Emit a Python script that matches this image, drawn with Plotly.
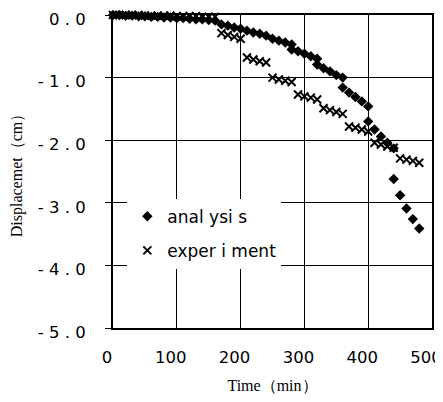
import plotly.graph_objects as go

# Analysis (diamonds)
ana_t = [0, 10, 20, 30, 40, 50, 60, 70, 80, 90, 100, 110, 120, 130, 140, 150, 160,
         170, 180, 190, 200, 210, 220, 230, 240, 250, 260, 270, 280,
         280, 290, 300, 310, 320,
         320, 330, 340, 350, 360,
         360, 370, 380, 390, 400,
         400, 410, 420, 430, 440,
         440, 450, 460, 470, 480]
ana_d = [0.00, 0.00, -0.01, -0.01, -0.02, -0.02, -0.03, -0.03, -0.04, -0.04, -0.05, -0.05, -0.06, -0.07, -0.07, -0.08, -0.09,
         -0.15, -0.17, -0.20, -0.22, -0.25, -0.28, -0.30, -0.33, -0.38, -0.41, -0.44, -0.47,
         -0.55, -0.58, -0.62, -0.66, -0.70,
         -0.79, -0.85, -0.90, -0.96, -1.00,
         -1.16, -1.24, -1.31, -1.38, -1.46,
         -1.70, -1.83, -1.94, -2.04, -2.13,
         -2.62, -2.88, -3.09, -3.26, -3.41]

# Experiment (crosses)
exp_t = [0, 10, 20, 30, 40, 50, 60, 70, 80, 90, 100, 110, 120, 130, 140, 150, 160,
         170, 180, 190, 200,
         210, 220, 230, 240,
         250, 260, 270, 280,
         290, 300, 310, 320,
         330, 340, 350, 360,
         370, 380, 390, 400,
         410, 420, 430, 440,
         450, 460, 470, 480]
exp_d = [0.00, 0.00, 0.00, 0.00, 0.00, -0.01, -0.01, -0.01, -0.01, -0.01, -0.02, -0.02, -0.02, -0.02, -0.03, -0.03, -0.03,
         -0.29, -0.32, -0.35, -0.38,
         -0.68, -0.71, -0.74, -0.76,
         -1.00, -1.03, -1.05, -1.07,
         -1.27, -1.30, -1.32, -1.35,
         -1.49, -1.52, -1.55, -1.58,
         -1.78, -1.80, -1.83, -1.86,
         -2.04, -2.07, -2.10, -2.12,
         -2.29, -2.31, -2.33, -2.36]

NB = "\u00a0"
y_ticks = [0, -1, -2, -3, -4, -5]
y_tick_text = ["0" + NB + "." + NB + "0",
               "-" + NB + "1" + NB + "." + NB + "0",
               "-" + NB + "2" + NB + "." + NB + "0",
               "-" + NB + "3" + NB + "." + NB + "0",
               "-" + NB + "4" + NB + "." + NB + "0",
               "-" + NB + "5" + NB + "." + NB + "0"]
x_ticks = [0, 100, 200, 300, 400, 500]
x_tick_text = ["0", "100", "200", "300", "400", "500"]

names = ["anal" + NB + "ysi" + NB + "s", "exper" + NB + "i" + NB + "ment"]

fig = go.Figure()
fig.add_trace(go.Scatter(
    x=ana_t, y=ana_d, mode="markers", name=names[0], legendgroup="a",
    marker=dict(symbol="diamond", size=8, color="black", line=dict(width=0)),
    cliponaxis=False,
))
fig.add_trace(go.Scatter(
    x=exp_t, y=exp_d, mode="markers", name=names[1], legendgroup="b",
    marker=dict(symbol="x-thin", size=8, color="black", line=dict(width=2, color="black")),
    cliponaxis=False,
))

sans = "DejaVu Sans, sans-serif"
serif = "Liberation Serif, Times New Roman, serif"

fig.update_layout(
    width=435, height=386,
    margin=dict(l=105, r=11, t=7, b=66),
    paper_bgcolor="white", plot_bgcolor="white",
    showlegend=True,
    legend=dict(
        x=0.045, y=0.413, xanchor="left", yanchor="top",
        bgcolor="white", borderwidth=0,
        font=dict(family=sans, size=17, color="black"),
        traceorder="grouped", tracegroupgap=9,
        itemsizing="trace",
    ),
    xaxis=dict(
        range=[0, 500], tickvals=x_ticks, ticktext=x_tick_text,
        showgrid=True, gridcolor="black", gridwidth=1,
        showline=True, linecolor="black", linewidth=2, mirror=True,
        ticks="", zeroline=False, automargin=False,
        ticklabelstandoff=13, ticklabelshift=-6, ticklabeloverflow="allow",
        tickfont=dict(family=sans, size=16.5, color="black"),
        title=dict(text="Time（min）", font=dict(family=serif, size=16, color="black"), standoff=21),
    ),
    yaxis=dict(
        range=[-5, 0], tickvals=y_ticks, ticktext=y_tick_text,
        showgrid=True, gridcolor="black", gridwidth=1,
        showline=True, linecolor="black", linewidth=2, mirror=True,
        ticks="outside", ticklen=6, tickcolor="black", tickwidth=1,
        zeroline=False, automargin=False,
        ticklabelstandoff=16, ticklabelshift=4, ticklabeloverflow="allow",
        tickfont=dict(family=sans, size=16.5, color="black"),
        title=dict(text="Displacemet（cm）", font=dict(family=serif, size=16, color="black"), standoff=14),
    ),
)

fig.write_html("out.html")
